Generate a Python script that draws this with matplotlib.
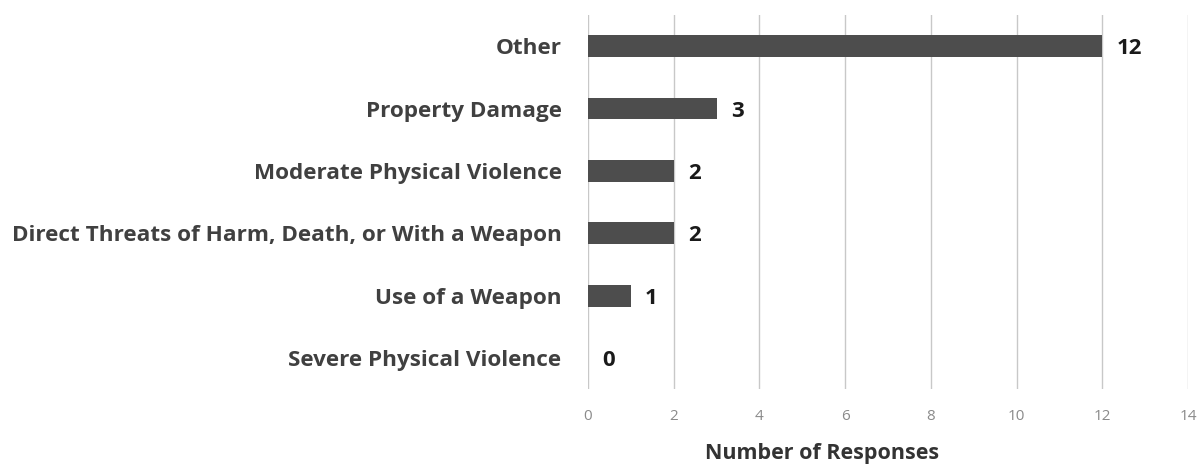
import matplotlib
matplotlib.use('Agg')
import matplotlib.pyplot as plt

categories = ["Severe Physical Violence", "Use of a Weapon",
              "Direct Threats of Harm, Death, or With a Weapon",
              "Moderate Physical Violence", "Property Damage", "Other"]
responses = [0, 1, 2, 2, 3, 12]
xticks = [0, 2, 4, 6, 8, 10, 12, 14]

plt.rcParams['font.family'] = ['Open Sans', 'DejaVu Sans']

fig = plt.figure(figsize=(12.01, 4.70), dpi=100)
ax = fig.add_axes([0.4896, 0.172, 0.4996, 0.796])

ypos = list(range(len(categories)))
ax.barh(ypos, responses, height=0.35, color='#4d4d4d', zorder=3)
for y, v in zip(ypos, responses):
    ax.text(v + 0.33, y - 0.04, str(v), va='center', ha='left', fontsize=16,
            fontweight='bold', color='#1a1a1a')

ax.set_xlim(0, 14)
ax.set_ylim(-0.5, len(categories) - 0.5)
ax.set_xticks(xticks)
ax.set_yticks(ypos)
ax.set_yticklabels(categories, fontsize=16.2, fontweight='bold', color='#404040')
ax.tick_params(axis='x', labelsize=11, colors='#8a8a8a', length=0, pad=14)
ax.tick_params(axis='y', length=0, pad=19)
ax.grid(axis='x', color='#c8c8c8', linewidth=1, zorder=0)
for s in ax.spines.values():
    s.set_visible(False)
ax.set_xlabel("Number of Responses", fontsize=15.5, fontweight='bold',
              color='#333333')
ax.xaxis.set_label_coords(0.39, -0.145)

fig.savefig("out.png", dpi=100)
